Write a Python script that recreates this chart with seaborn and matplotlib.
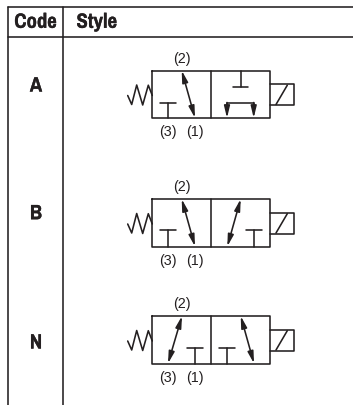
import pandas as pd
import seaborn as sns
import matplotlib
matplotlib.use("Agg")
import matplotlib.pyplot as plt
import matplotlib.patheffects as pe
from matplotlib import font_manager as fm

sns.set_theme(style="white")

INK = "#231f20"
installed = {f.name for f in fm.fontManager.ttflist}
head_choice = [n for n in ["Pragati Narrow", "Archivo Narrow", "Roboto Condensed", "Liberation Sans"] if n in installed]
HEAD_FONT = [head_choice[0] if head_choice else "DejaVu Sans", "DejaVu Sans"]
PORT_FONT = ["Liberation Sans", "DejaVu Sans"]
HEAD_SIZE = 16.2 if HEAD_FONT[0] == "Pragati Narrow" else 14
HEAVY = [pe.withStroke(linewidth=0.22, foreground=INK)]

headers = ["Code", "Style"]
codes = ["A", "B", "N"]
row_tops = [71.5, 200, 317]
code_ys = [87, 214.7, 344]
port_names = ["(2)", "(3)", "(1)"]

# Valve-envelope contents: arrows as (x_top, x_bottom), T-ports as stem x
left_arrows = {"A": (181.7, 195), "B": (181.7, 195), "N": (182, 168)}
right_arrows = {"A": None, "B": (240.7, 227.3), "N": (240.7, 254)}
left_tees = {"A": 168, "B": 168, "N": 194.7}
right_tees = {"A": None, "B": 254, "N": 227}
tee_levels = {"A": 32, "B": 31, "N": 32}
port3_x = {"A": 168.3, "B": 168.3, "N": 167.7}
spring_x = [127.7, 131.7, 136.7, 142.7, 148.3, 152.3]
spring_y = [25, 34, 14.5, 34.5, 14.7, 25]

H = 47.5
L, M, R = 152, 211, 269.5
SOL_R = 294

segments = []


def seg(xs, ys):
    k = len(segments)
    segments.append(pd.DataFrame({"x": xs, "y": ys, "seg": k}))


fig = plt.figure(figsize=(3.53, 4.06), dpi=100)
ax = fig.add_axes([0, 0, 1, 1])

# table rules
table_segments = pd.DataFrame({
    "x": [7.5, 353, 7.5, 353, 7.5, 7.5, 63.3, 63.3],
    "y": [8, 8, 37.7, 37.7, 8, 406, 8, 406],
    "seg": [0, 0, 1, 1, 2, 2, 3, 3],
})
sns.lineplot(data=table_segments, x="x", y="y", units="seg", estimator=None,
             sort=False, color=INK, lw=1.15, ax=ax, legend=False)


def arrow(x0, y0, x1, y1, style="<|-|>"):
    ax.annotate("", xy=(x1, y1), xytext=(x0, y0),
                arrowprops=dict(arrowstyle=f"{style},head_length=0.7,head_width=0.17",
                                color=INK, lw=1.15, shrinkA=0, shrinkB=0,
                                mutation_scale=10))


for code, top, cy in zip(codes, row_tops, code_ys):
    bot = top + H
    seg([L, R, R, L, L], [top, top, bot, bot, top])
    seg([M, M], [top, bot])
    seg(spring_x, [top + v for v in spring_y])
    seg([R, SOL_R, SOL_R, R], [top + 13.5, top + 13.5, top + 34.7, top + 34.7])
    seg([276, 287.3], [top + 34, top + 14.7])

    # T ports
    lvl = top + tee_levels[code]
    for stem in (left_tees[code], right_tees[code]):
        if stem is not None:
            seg([stem, stem], [bot, lvl])
            seg([stem - 7.8, stem + 7.8], [lvl, lvl])

    # flow arrows
    xa, xb = left_arrows[code]
    arrow(xa, top, xb, bot)
    if right_arrows[code] is not None:
        xa, xb = right_arrows[code]
        arrow(xa, top, xb, bot)
    else:
        # inverted T and bracket with two down arrows in position A
        seg([240.7, 240.7], [top, top + 16.3])
        seg([232.7, 248.3], [top + 16.3, top + 16.3])
        seg([227, 227, 253.7, 253.7], [top + 36, top + 32, top + 32, top + 36])
        arrow(227, top + 32, 227, bot, "-|>")
        arrow(253.7, top + 32, 253.7, bot, "-|>")

    # port labels
    ax.text(181.5, top - 13, port_names[0], ha="center", va="center",
            family=PORT_FONT, fontsize=10.3, color=INK)
    ax.text(port3_x[code], top + 60.6, port_names[1], ha="center", va="center",
            family=PORT_FONT, fontsize=10.3, color=INK)
    ax.text(195, top + 60.6, port_names[2], ha="center", va="center",
            family=PORT_FONT, fontsize=10.3, color=INK)

    ax.text(36, cy, code, ha="center", va="center", family=HEAD_FONT,
            fontweight="bold", fontsize=HEAD_SIZE, color=INK, path_effects=HEAVY)

sym = pd.concat(segments, ignore_index=True)
sns.lineplot(data=sym, x="x", y="y", units="seg", estimator=None, sort=False,
             color=INK, lw=1.15, ax=ax, legend=False)

ax.text(35.5, 23.3, headers[0], ha="center", va="center", family=HEAD_FONT,
        fontweight="bold", fontsize=HEAD_SIZE, color=INK, path_effects=HEAVY)
ax.text(96.7, 23.3, headers[1], ha="center", va="center", family=HEAD_FONT,
        fontweight="bold", fontsize=HEAD_SIZE, color=INK, path_effects=HEAVY)

ax.set_xlim(0, 353)
ax.set_ylim(406, 0)
ax.axis("off")
fig.savefig("out.png", dpi=100, facecolor="white")
